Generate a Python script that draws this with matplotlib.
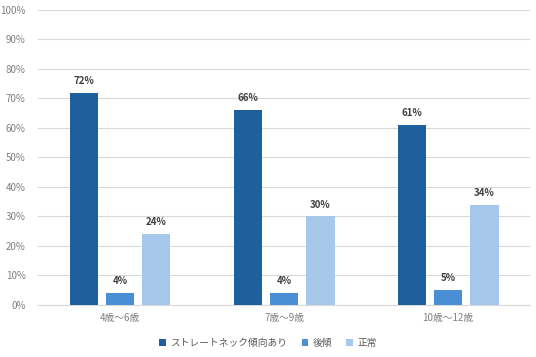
import matplotlib
matplotlib.use("Agg")
import matplotlib.pyplot as plt
import numpy as np

plt.rcParams['font.family'] = ['Noto Sans CJK JP', 'DejaVu Sans']

categories = ["4歳〜6歳", "7歳〜9歳", "10歳〜12歳"]
series_names = ["ストレートネック傾向あり", "後傾", "正常"]
straight = [72, 66, 61]
backward = [4, 4, 5]
normal = [24, 30, 34]
values = [straight, backward, normal]
colors = ["#1F5F9B", "#4A8FD6", "#A6C9EB"]
yticks = list(range(0, 101, 10))

fig = plt.figure(figsize=(5.36, 3.57), dpi=100)
ax = fig.add_axes([0.071, 0.146, 0.918, 0.826])

x = np.arange(len(categories))
width = 0.175
offsets = [-0.22, 0.0, 0.22]
for vals, name, c, off in zip(values, series_names, colors, offsets):
    bars = ax.bar(x + off, vals, width, color=c, label=name, zorder=3)
    for b, v in zip(bars, vals):
        ax.text(b.get_x() + b.get_width() / 2, v + 2.3, f"{v}%", ha="center", va="bottom",
                fontsize=7, fontweight="bold", color="#404040")

ax.set_xlim(-0.5, 2.5)
ax.set_ylim(0, 100)
ax.set_yticks(yticks)
ax.set_yticklabels([f"{t}%" for t in yticks])
ax.set_xticks(x)
ax.set_xticklabels(categories)
ax.tick_params(axis="both", length=0, labelsize=7, colors="#7F7F7F", pad=6)
ax.tick_params(axis="y", pad=9)
ax.yaxis.grid(True, color="#D9D9D9", linewidth=0.8, zorder=0)
for s in ["top", "right", "left"]:
    ax.spines[s].set_visible(False)
ax.spines["bottom"].set_color("#D9D9D9")

fig.legend(loc="lower center", bbox_to_anchor=(0.5, 0.0), ncol=3, frameon=False,
           fontsize=7, handlelength=0.7, handleheight=0.7, handletextpad=0.4,
           columnspacing=1.5, labelcolor="#595959")

fig.savefig("out.png", dpi=100)
